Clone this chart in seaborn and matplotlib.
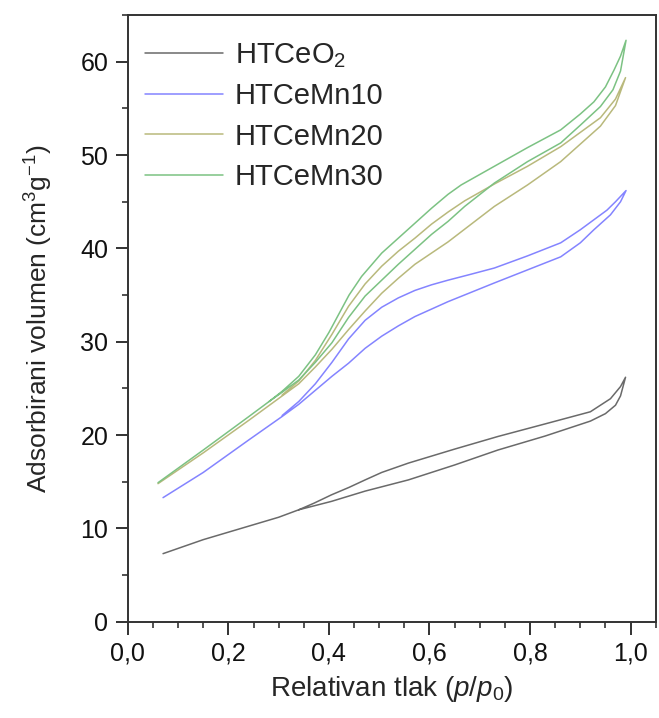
import numpy as np
import pandas as pd
import seaborn as sns
import matplotlib.pyplot as plt
from matplotlib.ticker import MultipleLocator

# sample names (legend order)
samples = ['HTCeO$_2$', 'HTCeMn10', 'HTCeMn20', 'HTCeMn30']
colors = ['#6a6a6a', '#8484ff', '#b9b97c', '#7cc283']

# adsorption branches (p/p0 rising)
ceo2_ads_p = [0.07, 0.15, 0.25, 0.30, 0.34, 0.405, 0.472, 0.558, 0.65, 0.736, 0.83, 0.92, 0.95, 0.97, 0.98, 0.99]
ceo2_ads_v = [7.3, 8.8, 10.4, 11.2, 12.0, 12.9, 14.0, 15.2, 16.8, 18.4, 19.9, 21.5, 22.3, 23.2, 24.2, 26.2]
mn10_ads_p = [0.07, 0.15, 0.241, 0.307, 0.34, 0.373, 0.406, 0.439, 0.472, 0.505, 0.538, 0.571,
              0.604, 0.637, 0.729, 0.795, 0.861, 0.90, 0.927, 0.96, 0.98, 0.991]
mn10_ads_v = [13.3, 16.0, 19.5, 22.0, 23.3, 24.8, 26.3, 27.7, 29.3, 30.6, 31.7, 32.7,
              33.5, 34.3, 36.3, 37.7, 39.1, 40.6, 42.0, 43.6, 45.0, 46.2]
mn20_ads_p = [0.06, 0.15, 0.241, 0.307, 0.34, 0.373, 0.406, 0.439, 0.472, 0.505, 0.538, 0.571,
              0.604, 0.637, 0.729, 0.795, 0.861, 0.94, 0.97, 0.99]
mn20_ads_v = [14.8, 18.1, 21.6, 24.2, 25.5, 27.3, 29.2, 31.3, 33.3, 35.2, 36.8, 38.3,
              39.5, 40.7, 44.5, 46.8, 49.3, 53.1, 55.3, 58.3]
mn30_ads_p = [0.06, 0.15, 0.241, 0.281, 0.307, 0.34, 0.373, 0.406, 0.439, 0.472, 0.505, 0.538,
              0.571, 0.604, 0.637, 0.67, 0.729, 0.795, 0.861, 0.90, 0.94, 0.965, 0.98, 0.991]
mn30_ads_v = [14.9, 18.4, 22.0, 23.6, 24.6, 25.9, 27.8, 29.9, 32.6, 34.9, 36.6, 38.3,
              39.9, 41.5, 42.9, 44.5, 47.0, 49.3, 51.3, 53.2, 55.2, 57.0, 59.0, 62.3]

# desorption branches (p/p0 falling)
ceo2_des_p = [0.99, 0.98, 0.96, 0.92, 0.83, 0.736, 0.65, 0.558, 0.505, 0.472, 0.44, 0.405, 0.37, 0.34]
ceo2_des_v = [26.2, 25.2, 23.9, 22.5, 21.2, 19.85, 18.5, 17.0, 16.0, 15.2, 14.4, 13.6, 12.7, 12.0]
mn10_des_p = [0.991, 0.97, 0.953, 0.90, 0.861, 0.795, 0.729, 0.68, 0.637, 0.604, 0.571, 0.538,
              0.505, 0.472, 0.439, 0.406, 0.373, 0.34, 0.307]
mn10_des_v = [46.2, 45.0, 44.1, 42.0, 40.6, 39.2, 37.9, 37.2, 36.6, 36.1, 35.5, 34.7,
              33.7, 32.3, 30.3, 27.8, 25.5, 23.6, 22.1]
mn20_des_p = [0.99, 0.97, 0.94, 0.861, 0.795, 0.729, 0.67, 0.637, 0.604, 0.571, 0.538, 0.505,
              0.472, 0.439, 0.406, 0.373, 0.34, 0.307]
mn20_des_v = [58.3, 56.0, 54.0, 50.9, 48.8, 46.9, 45.1, 43.9, 42.6, 41.1, 39.7, 38.1,
              36.2, 33.8, 30.8, 28.0, 25.8, 24.3]
mn30_des_p = [0.991, 0.98, 0.967, 0.95, 0.927, 0.90, 0.861, 0.795, 0.729, 0.663, 0.637, 0.604,
              0.571, 0.538, 0.505, 0.465, 0.44, 0.42, 0.40, 0.373, 0.34, 0.307, 0.281]
mn30_des_v = [62.3, 60.6, 59.1, 57.3, 55.7, 54.4, 52.7, 50.8, 48.8, 46.8, 45.8, 44.3,
              42.7, 41.1, 39.5, 37.0, 35.0, 33.0, 31.0, 28.6, 26.3, 24.7, 23.6]

xtick_vals = [0.0, 0.2, 0.4, 0.6, 0.8, 1.0]
xtick_labels = ['0,0', '0,2', '0,4', '0,6', '0,8', '1,0']
ytick_vals = [0, 10, 20, 30, 40, 50, 60]

branches = [
    (ceo2_ads_p, ceo2_ads_v, ceo2_des_p, ceo2_des_v),
    (mn10_ads_p, mn10_ads_v, mn10_des_p, mn10_des_v),
    (mn20_ads_p, mn20_ads_v, mn20_des_p, mn20_des_v),
    (mn30_ads_p, mn30_ads_v, mn30_des_p, mn30_des_v),
]

# one closed path per sample: adsorption then desorption
frames = []
for name, (ap, av, dp, dv) in zip(samples, branches):
    frames.append(pd.DataFrame({'p': ap + dp, 'v': av + dv, 'sample': name}))
df = pd.concat(frames, ignore_index=True)

sns.set_style('ticks')
plt.rcParams['font.family'] = ['Liberation Sans', 'DejaVu Sans']
plt.rcParams['mathtext.fontset'] = 'custom'
plt.rcParams['mathtext.rm'] = 'Liberation Sans'
plt.rcParams['mathtext.it'] = 'Liberation Sans:italic'

fig = plt.figure(figsize=(6.59, 7.18), dpi=100)
ax = fig.add_axes([0.194, 0.134, 0.801, 0.845])

sns.lineplot(data=df, x='p', y='v', hue='sample', hue_order=samples,
             palette=colors, sort=False, estimator=None, lw=1.1, ax=ax)

ax.set_xlim(0, 1.05)
ax.set_ylim(0, 65)
ax.set_xticks(xtick_vals)
ax.set_xticklabels(xtick_labels)
ax.set_yticks(ytick_vals)
ax.xaxis.set_minor_locator(MultipleLocator(0.05))
ax.yaxis.set_minor_locator(MultipleLocator(5))
ax.tick_params(which='major', length=9, width=1.3, labelsize=18, direction='out',
               color='#222222', labelcolor='#111111', pad=5)
ax.tick_params(which='minor', length=4.5, width=1.1, direction='out', color='#222222')
for s in ax.spines.values():
    s.set_linewidth(1.4)
    s.set_color('#333333')

ax.set_xlabel(r'Relativan tlak ($p$/$p_0$)', fontsize=20, labelpad=6)
ax.set_ylabel(r'Adsorbirani volumen (cm$^3$g$^{-1}$)', fontsize=19, labelpad=18)

ax.legend(loc='upper left', frameon=False, fontsize=21, handlelength=2.7,
          handletextpad=0.4, labelspacing=0.42, borderaxespad=0.5,
          bbox_to_anchor=(-0.018, 1.0))

fig.savefig('out.png', dpi=100)
